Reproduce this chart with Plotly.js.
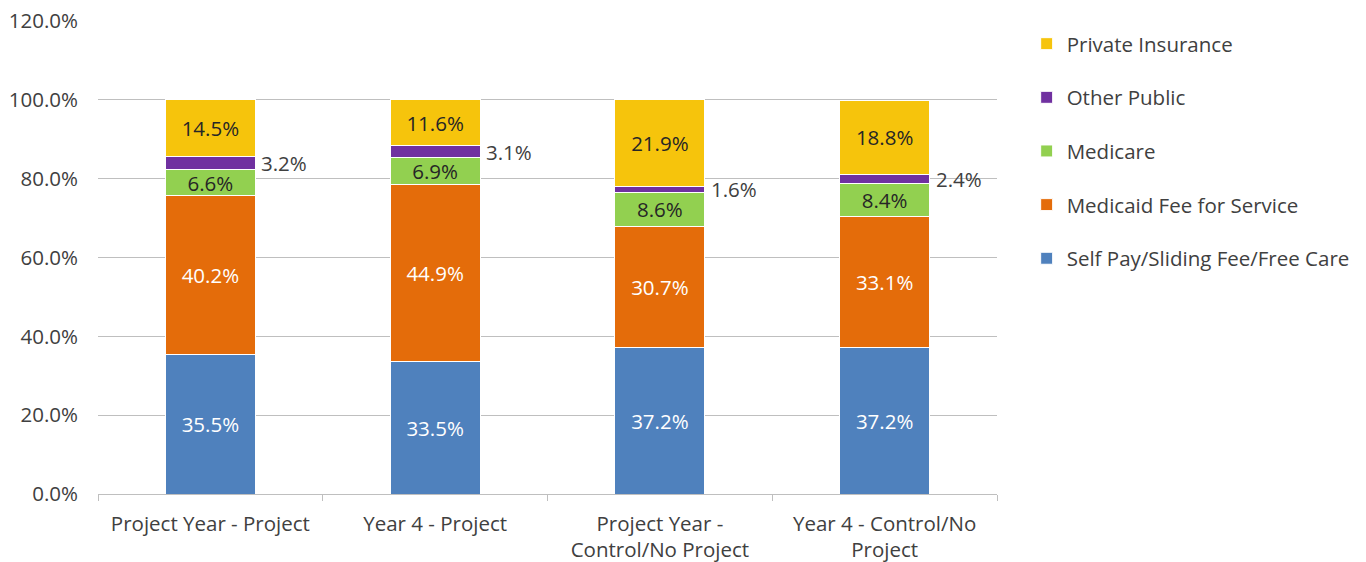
<!DOCTYPE html>
<html>
<head>
<meta charset="utf-8">
<script src="https://cdn.plot.ly/plotly-3.0.1.min.js"></script>
<style>html,body{margin:0;padding:0;background:#fff;}#chart{width:1366px;height:562px;}</style>
</head>
<body>
<div id="chart"></div>
<script>
const categories = ["Project Year - Project", "Year 4 - Project", "Project Year -<br>Control/No Project", "Year 4 - Control/No<br>Project"];
const selfPay = [35.5, 33.5, 37.2, 37.2];
const medicaidFFS = [40.2, 44.9, 30.7, 33.1];
const medicare = [6.6, 6.9, 8.6, 8.4];
const otherPublic = [3.2, 3.1, 1.6, 2.4];
const privateIns = [14.5, 11.6, 21.9, 18.8];
const seriesNames = ["Self Pay/Sliding Fee/Free Care", "Medicaid Fee for Service", "Medicare", "Other Public", "Private Insurance"];
const yTicks = [0, 20, 40, 60, 80, 100, 120];

const FONT = "Open Sans, Liberation Sans, sans-serif";
const FS = 20.5;
const colors = ["#4f81bd", "#e46c0a", "#92d050", "#7030a0", "#f6c40c"];
const textColors = ["#ffffff", "#ffffff", "#262626", "#262626", "#262626"];
const seriesData = [selfPay, medicaidFFS, medicare, otherPublic, privateIns];

const traces = seriesData.map((vals, i) => ({
  type: "bar",
  name: seriesNames[i],
  x: categories,
  y: vals,
  legendgroup: "g" + i,
  legendrank: 10 - i,
  marker: {color: colors[i], line: {color: "#ffffff", width: 1}},
  text: vals.map(v => v.toFixed(1) + "%"),
  textposition: i === 3 ? "none" : "inside",
  insidetextanchor: "middle",
  constraintext: "none",
  textfont: {family: FONT, size: FS, color: textColors[i]},
  hoverinfo: "skip"
}));

// Labels for Other Public, placed to the right of each bar
const annotations = categories.map((c, j) => {
  const base = selfPay[j] + medicaidFFS[j] + medicare[j];
  return {
    xref: "x", yref: "y", x: c, y: base + otherPublic[j] / 2,
    text: otherPublic[j].toFixed(1) + "%",
    showarrow: false, xanchor: "left", yanchor: "middle", xshift: 49,
    font: {family: FONT, size: FS, color: "#404040"}
  };
});

const layout = {
  width: 1366, height: 562,
  margin: {l: 98, r: 369, t: 21, b: 68, autoexpand: false},
  paper_bgcolor: "#ffffff", plot_bgcolor: "#ffffff",
  barmode: "stack",
  bargap: 0.6,
  font: {family: FONT, size: FS, color: "#404040"},
  xaxis: {
    type: "category",
    showgrid: false,
    showline: true, linecolor: "#bfbfbf", linewidth: 1,
    ticks: "outside", tickson: "boundaries", ticklen: 6, tickcolor: "#bfbfbf",
    ticklabelstandoff: 11,
    tickfont: {family: FONT, size: FS, color: "#404040"},
    fixedrange: true
  },
  yaxis: {
    range: [0, 120],
    tickvals: yTicks,
    ticktext: yTicks.map(v => v.toFixed(1) + "%"),
    showgrid: true, gridcolor: "#bfbfbf", gridwidth: 1,
    zeroline: false, showline: false,
    ticks: "", ticklabelstandoff: 19,
    tickfont: {family: FONT, size: FS, color: "#404040"},
    fixedrange: true
  },
  showlegend: true,
  legend: {
    traceorder: "grouped",
    tracegroupgap: 24,
    x: 1.033, xanchor: "left",
    y: 0.994, yanchor: "top",
    font: {family: FONT, size: FS, color: "#404040"},
    bgcolor: "rgba(0,0,0,0)"
  },
  annotations: annotations
};

Plotly.newPlot("chart", traces, layout, {displayModeBar: false, staticPlot: true});
</script>
</body>
</html>
